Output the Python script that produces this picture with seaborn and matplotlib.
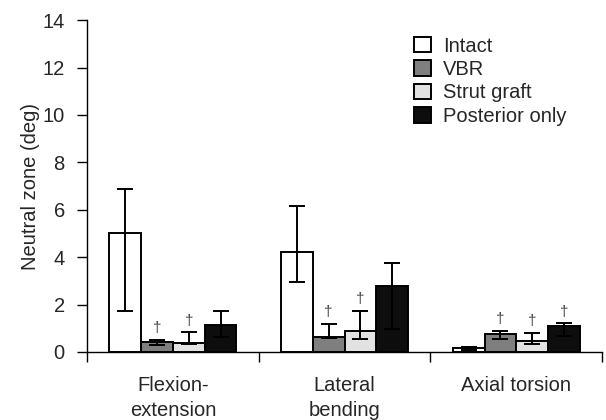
"""Neutral zone by loading mode and construct, bar chart with error bars."""

import matplotlib

matplotlib.use("Agg")

import matplotlib.pyplot as plt
import pandas as pd
import seaborn as sns

MOTIONS = ["Flexion-\nextension", "Lateral\nbending", "Axial torsion"]
GROUPS = ["Intact", "VBR", "Strut graft", "Posterior only"]
COLORS = ["#ffffff", "#7f7f7f", "#e2e2e2", "#0d0d0d"]

# mean values, one list per construct
intact = [5.0, 4.22, 0.15]
vbr = [0.43, 0.63, 0.76]
strut = [0.38, 0.90, 0.46]
posterior = [1.13, 2.80, 1.11]

# error bar ends (upper / lower)
intact_hi = [6.88, 6.16, 0.22]
intact_lo = [1.73, 2.94, 0.08]
vbr_hi = [0.50, 1.18, 0.90]
vbr_lo = [0.30, 0.58, 0.55]
strut_hi = [0.83, 1.72, 0.79]
strut_lo = [0.32, 0.55, 0.34]
posterior_hi = [1.73, 3.74, 1.21]
posterior_lo = [0.65, 0.96, 0.68]

# dagger = significant difference vs intact
intact_sig = [False, False, False]
vbr_sig = [True, True, True]
strut_sig = [True, True, True]
posterior_sig = [False, False, True]

YTICKS = [0, 2, 4, 6, 8, 10, 12, 14]

means = [intact, vbr, strut, posterior]
highs = [intact_hi, vbr_hi, strut_hi, posterior_hi]
lows = [intact_lo, vbr_lo, strut_lo, posterior_lo]
sigs = [intact_sig, vbr_sig, strut_sig, posterior_sig]

rows = []
for g, vals in zip(GROUPS, means):
    for m, v in zip(MOTIONS, vals):
        rows.append({"motion": m, "group": g, "value": v})
df = pd.DataFrame(rows)

sns.set_style("ticks")
plt.rcParams["font.family"] = ["Liberation Sans", "DejaVu Sans"]

fig = plt.figure(figsize=(6.06, 4.2), dpi=100)
ax = fig.add_axes([0.1436, 0.162, 0.85, 0.79])

sns.barplot(
    data=df, x="motion", y="value", hue="group", order=MOTIONS, hue_order=GROUPS,
    palette=COLORS, width=0.74, gap=0, edgecolor="black", linewidth=1.4,
    errorbar=None, ax=ax,
)

for container, vals, hi, lo, sig in zip(ax.containers, means, highs, lows, sigs):
    xs = [bar.get_x() + bar.get_width() / 2 for bar in container]
    err = [[v - l for v, l in zip(vals, lo)], [h - v for v, h in zip(vals, hi)]]
    ax.errorbar(xs, vals, yerr=err, fmt="none", ecolor="black", elinewidth=1.4,
                capsize=5.5, capthick=1.4, zorder=5)
    for x, h, s in zip(xs, hi, sig):
        if s:
            ax.text(x, h + 0.2, "\u2020", ha="center", va="bottom",
                    fontsize=11, color="#444444")

ax.set_xlim(-0.5, 2.5)
ax.set_ylim(0, 14)
ax.set_yticks(YTICKS)
ax.set_yticklabels([str(t) for t in YTICKS], fontsize=14.5)
ax.set_xticks(range(len(MOTIONS)))
ax.set_xticklabels(MOTIONS, fontsize=14.5, linespacing=1.4)
ax.set_xticks([-0.5, 0.5, 1.5, 2.5], minor=True)
ax.tick_params(axis="x", which="major", length=0, pad=17)
ax.tick_params(axis="x", which="minor", length=7, width=1, color="black")
ax.tick_params(axis="y", length=7, width=1, color="black", pad=9)
ax.set_xlabel("")
ax.set_ylabel("Neutral zone (deg)", fontsize=14.5, labelpad=2)
for side in ["left", "bottom"]:
    ax.spines[side].set_color("black")
    ax.spines[side].set_linewidth(1)
sns.despine(ax=ax)

handles, labels = ax.get_legend_handles_labels()
ax.legend(handles, labels, loc="upper left", bbox_to_anchor=(0.62, 0.975),
          frameon=False, fontsize=14.5, handlelength=0.8, handleheight=0.8,
          handletextpad=0.6, labelspacing=0.22, borderaxespad=0)

fig.savefig("out.png", dpi=100)
